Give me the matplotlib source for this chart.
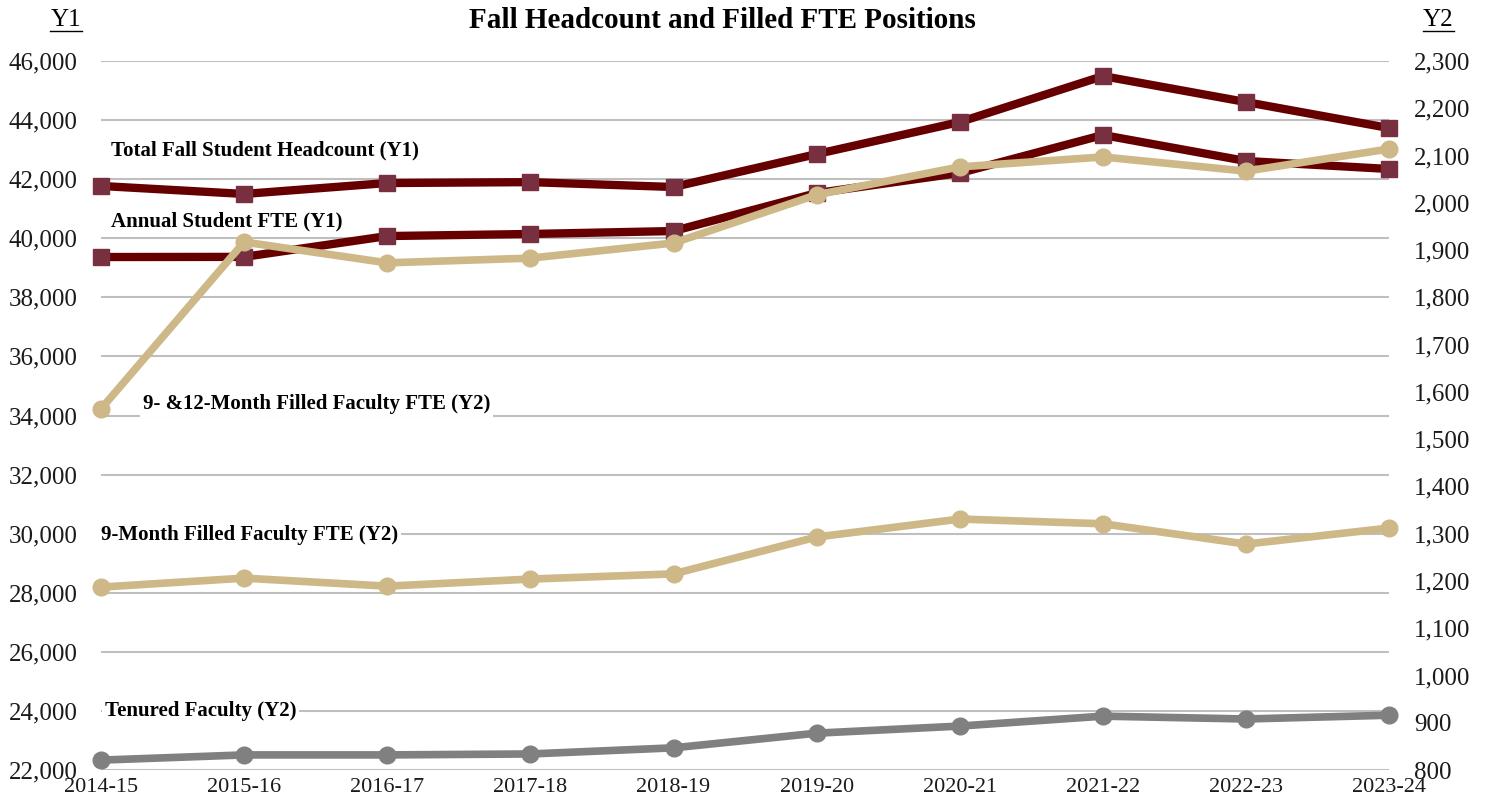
import matplotlib
matplotlib.use("Agg")
import matplotlib.pyplot as plt
from matplotlib.ticker import FuncFormatter, MultipleLocator

years = ["2014-15", "2015-16", "2016-17", "2017-18", "2018-19",
         "2019-20", "2020-21", "2021-22", "2022-23", "2023-24"]
headcount = [41770, 41500, 41870, 41900, 41735, 42850, 43935, 45490, 44610, 43730]
student_fte = [39365, 39370, 40075, 40145, 40245, 41530, 42210, 43495, 42615, 42345]
fte_9_12 = [1564, 1917, 1873, 1883, 1915, 2017, 2076, 2097, 2067, 2114]
fte_9 = [1187, 1206, 1189, 1204, 1215, 1293, 1331, 1321, 1278, 1312]
tenured = [821, 832, 832, 834, 847, 878, 893, 914, 908, 916]

plt.rcParams['font.family'] = ['Liberation Serif', 'DejaVu Serif']

fig = plt.figure(figsize=(14.85, 8.07), dpi=100)
ax = fig.add_axes([0.068, 0.0458, 0.8675, 0.8786])
ax2 = ax.twinx()

x = list(range(len(years)))
maroon = '#660000'
mk = '#782F40'
gold = '#CEB888'
gray = '#808080'

ax.plot(x, headcount, color=maroon, lw=6, marker='s', ms=11, mfc=mk, mec=mk, zorder=3, clip_on=False)
ax.plot(x, student_fte, color=maroon, lw=6, marker='s', ms=11, mfc=mk, mec=mk, zorder=3, clip_on=False)
ax2.plot(x, fte_9_12, color=gold, lw=5.5, marker='o', ms=12, mfc=gold, mec=gold, zorder=4, clip_on=False)
ax2.plot(x, fte_9, color=gold, lw=5.5, marker='o', ms=12, mfc=gold, mec=gold, zorder=4, clip_on=False)
ax2.plot(x, tenured, color=gray, lw=5.5, marker='o', ms=12, mfc=gray, mec=gray, zorder=4, clip_on=False)

ax.set_xlim(0, 9)
ax.set_ylim(22000, 46000)
ax2.set_ylim(800, 2300)
ax.yaxis.set_major_locator(MultipleLocator(2000))
ax2.yaxis.set_major_locator(MultipleLocator(100))
ax.yaxis.set_major_formatter(FuncFormatter(lambda v, p: f"{int(v):,}"))
ax2.yaxis.set_major_formatter(FuncFormatter(lambda v, p: f"{int(v):,}"))
ax.set_xticks(x)
ax.set_xticklabels(years)

ax.grid(axis='y', color='#BFBFBF', lw=1.5, zorder=0)
ax.set_axisbelow(True)
for a in (ax, ax2):
    for s in a.spines.values():
        s.set_visible(False)
    a.tick_params(length=0, labelsize=18, colors='#1a1a1a')
ax.tick_params(axis='y', pad=17)
ax2.tick_params(axis='y', pad=18)
ax.tick_params(axis='x', pad=6, labelsize=16)

fig.text(0.4865, 0.975, "Fall Headcount and Filled FTE Positions", ha='center', va='center',
         fontsize=21, fontweight='bold')
fig.text(0.0445, 0.975, "Y1", ha='center', va='center', fontsize=18)
fig.text(0.9685, 0.975, "Y2", ha='center', va='center', fontsize=18)
fig.add_artist(plt.Line2D([0.034, 0.055], [0.961, 0.961], color='k', lw=1))
fig.add_artist(plt.Line2D([0.958, 0.979], [0.961, 0.961], color='k', lw=1))

box = dict(facecolor='white', edgecolor='none', pad=2)
labels = [
    ("Total Fall Student Headcount (Y1)", 0.0078, 0.8745),
    ("Annual Student FTE (Y1)", 0.0078, 0.7743),
    ("9- &12-Month Filled Faculty FTE (Y2)", 0.0326, 0.516),
    ("9-Month Filled Faculty FTE (Y2)", 0.0, 0.331),
    ("Tenured Faculty (Y2)", 0.003, 0.0832),
]
for t, lx, ly in labels:
    ax2.text(lx, ly, t, transform=ax.transAxes, ha='left', va='center',
             fontsize=15, fontweight='bold', bbox=box, zorder=2)

fig.savefig("out.png", dpi=100)
